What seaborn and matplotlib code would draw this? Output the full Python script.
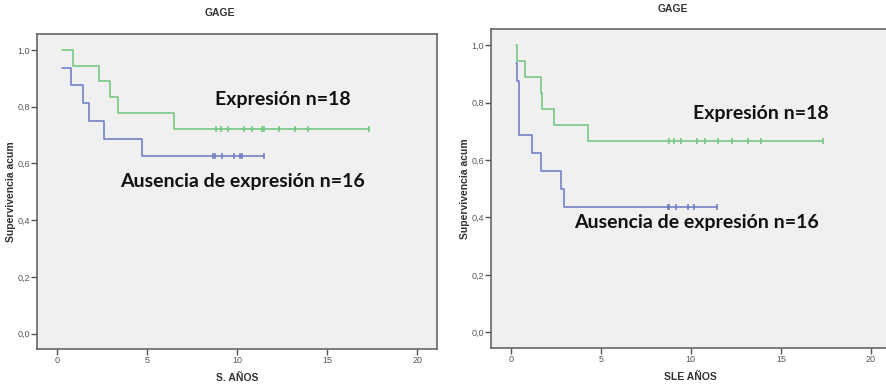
import numpy as np
import pandas as pd
import matplotlib
matplotlib.use("Agg")
import matplotlib.pyplot as plt
from matplotlib import font_manager
import seaborn as sns

# Kaplan-Meier input: event (death / relapse) times and censored times, in years
os_expr_events = [0.87, 2.35, 2.94, 3.37, 6.48]
os_expr_censored = [8.83, 9.13, 9.48, 9.48, 10.41, 10.85, 11.41, 11.52, 12.35, 13.2, 13.2, 13.94, 17.35]
os_abs_events = [0.26, 0.80, 1.43, 1.78, 2.63, 4.72]
os_abs_censored = [8.69, 8.69, 8.80, 9.17, 9.85, 9.85, 10.15, 10.29, 11.48, 11.48]

dfs_expr_events = [0.35, 0.78, 1.68, 1.74, 2.42, 4.31]
dfs_expr_censored = [8.79, 9.08, 9.47, 9.47, 10.36, 10.81, 11.5, 12.31, 13.18, 13.18, 13.9, 17.33]
dfs_abs_events = [0.29, 0.35, 0.46, 0.46, 0.46, 1.16, 1.68, 2.81, 2.98]
dfs_abs_censored = [8.72, 8.78, 8.78, 9.17, 9.85, 10.18, 11.48]

group_labels = ["Expresión n=18", "Ausencia de expresión n=16"]
panel_titles = ["GAGE", "GAGE"]
x_labels = ["S. AÑOS", "SLE AÑOS"]
y_label = "Supervivencia acum"
x_ticks = [0, 5, 10, 15, 20]
y_ticks = [0.0, 0.2, 0.4, 0.6, 0.8, 1.0]

GREEN = "#6cc57c"
BLUE = "#6a78c6"

sns.set_theme(style="white")
avail = {f.name for f in font_manager.fontManager.ttflist}
label_font = "Lato"
for cand in ("Liberation Sans Narrow", "DejaVu Sans Condensed", "Lato"):
    if cand in avail:
        label_font = cand
        break
plt.rcParams["font.family"] = ["Liberation Sans", "DejaVu Sans"]


def kaplan_meier(events, censored, start):
    """Return step coordinates and censor-mark positions of a KM curve."""
    n = len(events) + len(censored)
    times = sorted(set(events) | set(censored))
    at_risk = n
    s = 1.0
    xs, ys = [], []
    cx, cy = [], []
    s_start = 1.0
    for t in times:
        d = events.count(t)
        c = censored.count(t)
        if d:
            s *= (at_risk - d) / at_risk
        if t <= start:
            s_start = s
        else:
            if d:
                xs.append(t)
                ys.append(s)
        if c:
            cx.append(t)
            cy.append(s)
        at_risk -= d + c
    xs = [start] + xs
    ys = [s_start] + ys
    last = max(times)
    xs.append(last)
    ys.append(ys[-1])
    return pd.DataFrame({"t": xs, "s": ys}), pd.DataFrame({"t": cx, "s": cy})


fig = plt.figure(figsize=(8.87, 3.86), dpi=100)
axes = [
    fig.add_axes([37 / 887, 1 - 349 / 386, 400 / 887, 315 / 386]),
    fig.add_axes([490.7 / 887, 1 - 347.7 / 386, 400 / 887, 318.4 / 386]),
]

panels = [
    ((os_expr_events, os_expr_censored), (os_abs_events, os_abs_censored), 0.26,
     ((215, 100), (120, 182))),
    ((dfs_expr_events, dfs_expr_censored), (dfs_abs_events, dfs_abs_censored), 0.29,
     ((693, 113), (574, 222))),
]

for i, (ax, (expr, absn, start, text_pos)) in enumerate(zip(axes, panels)):
    ax.set_facecolor("#f0f0f0")
    for grp, color in ((expr, GREEN), (absn, BLUE)):
        steps, marks = kaplan_meier(list(grp[0]), list(grp[1]), start)
        sns.lineplot(data=steps, x="t", y="s", ax=ax, color=color, lw=1.1,
                     drawstyle="steps-post", estimator=None, sort=False)
        sns.scatterplot(data=marks, x="t", y="s", ax=ax, color=color, marker="|",
                        s=22, linewidth=1.1)
    ax.set_xlim(-1.11, 21.1)
    ax.set_ylim(-0.054, 1.056)
    ax.set_xticks(x_ticks)
    ax.set_xticklabels([str(v) for v in x_ticks])
    ax.set_yticks(y_ticks)
    ax.set_yticklabels([f"{v:.1f}".replace(".", ",") for v in y_ticks])
    ax.tick_params(axis="both", direction="out", length=4, width=1, color="#555555",
                   labelsize=6.5, labelcolor="#555555", pad=1, bottom=True, left=True)
    for sp in ax.spines.values():
        sp.set_color("#666666")
        sp.set_linewidth(1.2)
    ax.set_xlabel(x_labels[i], fontsize=7.5, fontweight="bold", color="#333333", labelpad=6)
    ax.set_ylabel(y_label, fontsize=7.5, fontweight="bold", color="#333333", labelpad=1)

    # group labels, placed in figure pixels
    for (px, py), lab in zip(text_pos, group_labels):
        fig.text(px / 887, 1 - py / 386, lab, fontsize=14, fontweight="bold",
                 family=[label_font, "DejaVu Sans"], color="#111111",
                 ha="left", va="center")

fig.text(220 / 887, 1 - 13 / 386, panel_titles[0], fontsize=7.5, fontweight="bold",
         color="#333333", ha="center", va="center")
fig.text(673 / 887, 1 - 9 / 386, panel_titles[1], fontsize=7.5, fontweight="bold",
         color="#333333", ha="center", va="center")

fig.savefig("out.png", dpi=100, facecolor="white")
